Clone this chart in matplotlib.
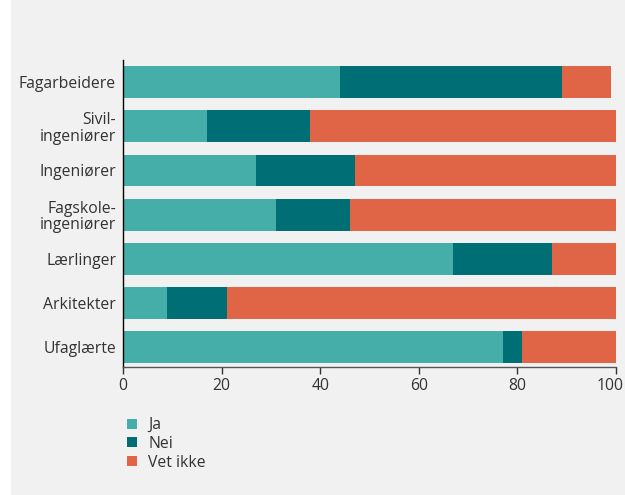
import matplotlib
matplotlib.use("Agg")
import matplotlib.pyplot as plt
from matplotlib.patches import Rectangle
from matplotlib.transforms import ScaledTranslation

categories = ["Fagarbeidere", "Sivil-\ningeniører", "Ingeniører", "Fagskole-\ningeniører",
              "Lærlinger", "Arkitekter", "Ufaglærte"]
ja = [44, 17, 27, 31, 67, 9, 77]
nei = [45, 21, 20, 15, 20, 12, 4]
vet_ikke = [10, 62, 53, 54, 13, 79, 19]
series_names = ["Ja", "Nei", "Vet ikke"]
colors = ["#46aea9", "#006e75", "#e06546"]
xticks = [0, 20, 40, 60, 80, 100]

plt.rcParams['font.family'] = ['Open Sans', 'DejaVu Sans']
text_color = "#333333"
fs = 11.3

fig = plt.figure(figsize=(6.25, 4.95), dpi=100)
fig.patches.append(Rectangle((11/625, 0.0), 1 - 11/625, 1.0, transform=fig.transFigure,
                             facecolor="#f1f1f1", edgecolor="none", zorder=-10))
ax = fig.add_axes([123/625, 1 - 367/495, 493/625, 307/495])
ax.set_facecolor("none")

y = list(range(len(categories)))
left = [0] * len(categories)
for vals, name, c in zip([ja, nei, vet_ikke], series_names, colors):
    ax.barh(y, vals, left=left, height=0.72, color=c, label=name, linewidth=0)
    left = [l + v for l, v in zip(left, vals)]

ax.set_xlim(0, 100)
ax.set_ylim(6.45, -0.5)
ax.set_yticks(y)
ax.set_yticklabels(categories, fontsize=fs, color=text_color, linespacing=1.05)
ax.tick_params(axis="y", length=0, pad=5)
ax.set_xticks(xticks)
ax.set_xticklabels([str(t) for t in xticks], fontsize=fs, color=text_color)
ax.tick_params(axis="x", length=5, width=1, color="#333333", pad=3)
last = ax.get_xticklabels()[-1]
last.set_transform(last.get_transform() + ScaledTranslation(-6/100, 0, fig.dpi_scale_trans))
for s in ["top", "right"]:
    ax.spines[s].set_visible(False)
ax.spines["left"].set_color("black")
ax.spines["left"].set_linewidth(1)
ax.spines["bottom"].set_color("#555555")
ax.spines["bottom"].set_linewidth(1)

leg = fig.legend(loc="upper left", bbox_to_anchor=(113/625, 1 - 403/495), frameon=False,
                 handlelength=0.6, handleheight=0.6, handletextpad=0.75, labelspacing=0.18,
                 fontsize=fs)
for t in leg.get_texts():
    t.set_color(text_color)

fig.savefig("out.png", dpi=100)
